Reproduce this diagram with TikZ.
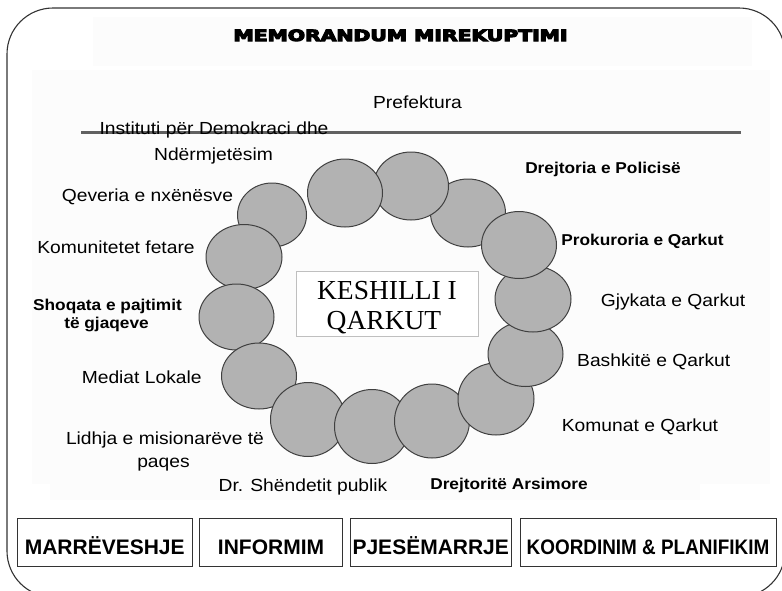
\documentclass[tikz,border=0pt]{standalone}
\usepackage{fontspec}
\setmainfont{Liberation Sans}
\newfontfamily\labfont{Liberation Sans}[FakeStretch=1.1]
\newfontfamily\boxfont{Liberation Sans}
\newfontfamily\serfont{Liberation Serif}
\newfontfamily\ttlfont{DejaVu Sans Bold}
\newcommand{\heavytext}[1]{\special{pdf:literal direct 2 Tr 1.1 w}#1\special{pdf:literal direct 0 Tr 1 w}}
\definecolor{faintbg}{RGB}{252,252,252}
\usetikzlibrary{shapes.geometric}
\tikzset{
  lab/.style={font=\labfont\fontsize{17.5}{20}\selectfont, anchor=base, inner sep=0pt},
  labb/.style={font=\labfont\bfseries\fontsize{15.7}{18}\selectfont, anchor=base, inner sep=0pt},
  circ/.style={ellipse, draw=black!75, line width=1pt, fill=black!30, minimum width=75pt, minimum height=68pt, inner sep=0pt},
  circbig/.style={circ, minimum height=74pt},
  keytxt/.style={font=\serfont\fontsize{27.5}{30}\selectfont, anchor=base, inner sep=0pt},
  boxst/.style={draw=black!80, line width=1pt, fill=white, inner sep=0pt, minimum height=48pt, text height=24pt, text depth=0pt, font=\boxfont\bfseries\fontsize{21}{24}\selectfont},
  bgfaint/.style={fill=faintbg}
}
\begin{document}
\begin{tikzpicture}[x=1pt,y=-1pt]
\useasboundingbox (0,0) rectangle (782,590);
\clip (0,0) rectangle (782,590);
\fill[white] (0,0) rectangle (782,590);
% faint image background
\fill[bgfaint] (93,17) rectangle (752,66);
\fill[bgfaint] (32,70) rectangle (770,484);
\fill[bgfaint] (50,484) rectangle (700,500);
% outer frame
\draw[line width=1.1pt, draw=black!80, rounded corners=46pt] (7,8) rectangle (785,597);
% title
\node[font=\ttlfont\fontsize{17}{20}\selectfont, anchor=base, inner sep=0pt] (title) at (400.5,41) {\resizebox{334pt}{11.5pt}{\heavytext{MEMORANDUM MIREKUPTIMI}}};
% gray line
\coordinate (lineL) at (81,132.5);
\coordinate (lineR) at (741,132.5);
\draw[line width=3pt, draw=black!62] (lineL) -- (lineR);
% circles
\node[circ] (c3) at (468,213) {};
\node[circ] (c2) at (411,186) {};
\node[circ] (c1) at (345,193) {};
\node[circ, minimum width=69pt, minimum height=64pt] (cqev) at (272,215) {};
\node[circ, minimum width=76pt, minimum height=65pt] (ckom) at (244,257) {};
\node[circ, minimum height=66pt] (csho) at (236.5,317) {};
\node[circ, minimum height=66pt] (cmed) at (259,376) {};
\node[circbig] (ca) at (308,419.5) {};
\node[circbig] (cb) at (372,426.5) {};
\node[circbig] (cc) at (432,421) {};
\node[circ, minimum width=76pt, minimum height=72pt] (cd) at (496,399) {};
\node[circ, minimum height=65pt] (ce) at (525.5,354) {};
\node[circ, minimum width=76pt, minimum height=66pt] (cf) at (533,299) {};
\node[circ, minimum height=67pt] (cg) at (519,245) {};
% center box
\node[draw=black!25, line width=0.8pt, fill=white, minimum width=182pt, minimum height=65pt, inner sep=0pt] (kbox) at (387,303.5) {};
\node[keytxt] (k1) at (387,299) {KESHILLI I};
\node[keytxt] (k2) at (384,329) {QARKUT};
% labels
\node[lab] (pref) at (417.5,108) {Prefektura};
\node[lab] (inst1) at (214,134) {Instituti për Demokraci dhe};
\node[lab] (inst2) at (213.5,160) {Ndërmjetësim};
\node[lab] (qev) at (147.5,201) {Qeveria e nxënësve};
\node[lab] (kom) at (116,253) {Komunitetet fetare};
\node[labb] (sho1) at (107.5,310) {Shoqata e pajtimit};
\node[labb] (sho2) at (106.5,328) {të gjaqeve};
\node[lab] (med) at (141.7,383) {Mediat Lokale};
\node[lab] (lid1) at (165,444) {Lidhja e misionarëve të};
\node[lab] (lid2) at (163.5,467) {paqes};
\node[lab] (shen) at (303,491) {Dr. Shëndetit publik};
\node[labb] (ars) at (509,489) {Drejtoritë Arsimore};
\node[labb] (pol) at (603,173) {Drejtoria e Policisë};
\node[labb] (pro) at (642.5,245) {Prokuroria e Qarkut};
\node[lab] (gjy) at (673,306.7) {Gjykata e Qarkut};
\node[lab] (bas) at (653.7,366) {Bashkitë e Qarkut};
\node[lab] (komq) at (640,431.7) {Komunat e Qarkut};
% bottom boxes
\node[boxst, minimum width=174.5pt] (b1) at (104.75,542) {MARRËVESHJE};
\node[boxst, minimum width=143pt] (b2) at (271,542) {INFORMIM};
\node[boxst, minimum width=160.5pt] (b3) at (430.75,542) {PJESËMARRJE};
\node[boxst, minimum width=256pt] (b4) at (648,542) {\scalebox{0.9}[1]{KOORDINIM \& PLANIFIKIM}};
\end{tikzpicture}
\end{document}
